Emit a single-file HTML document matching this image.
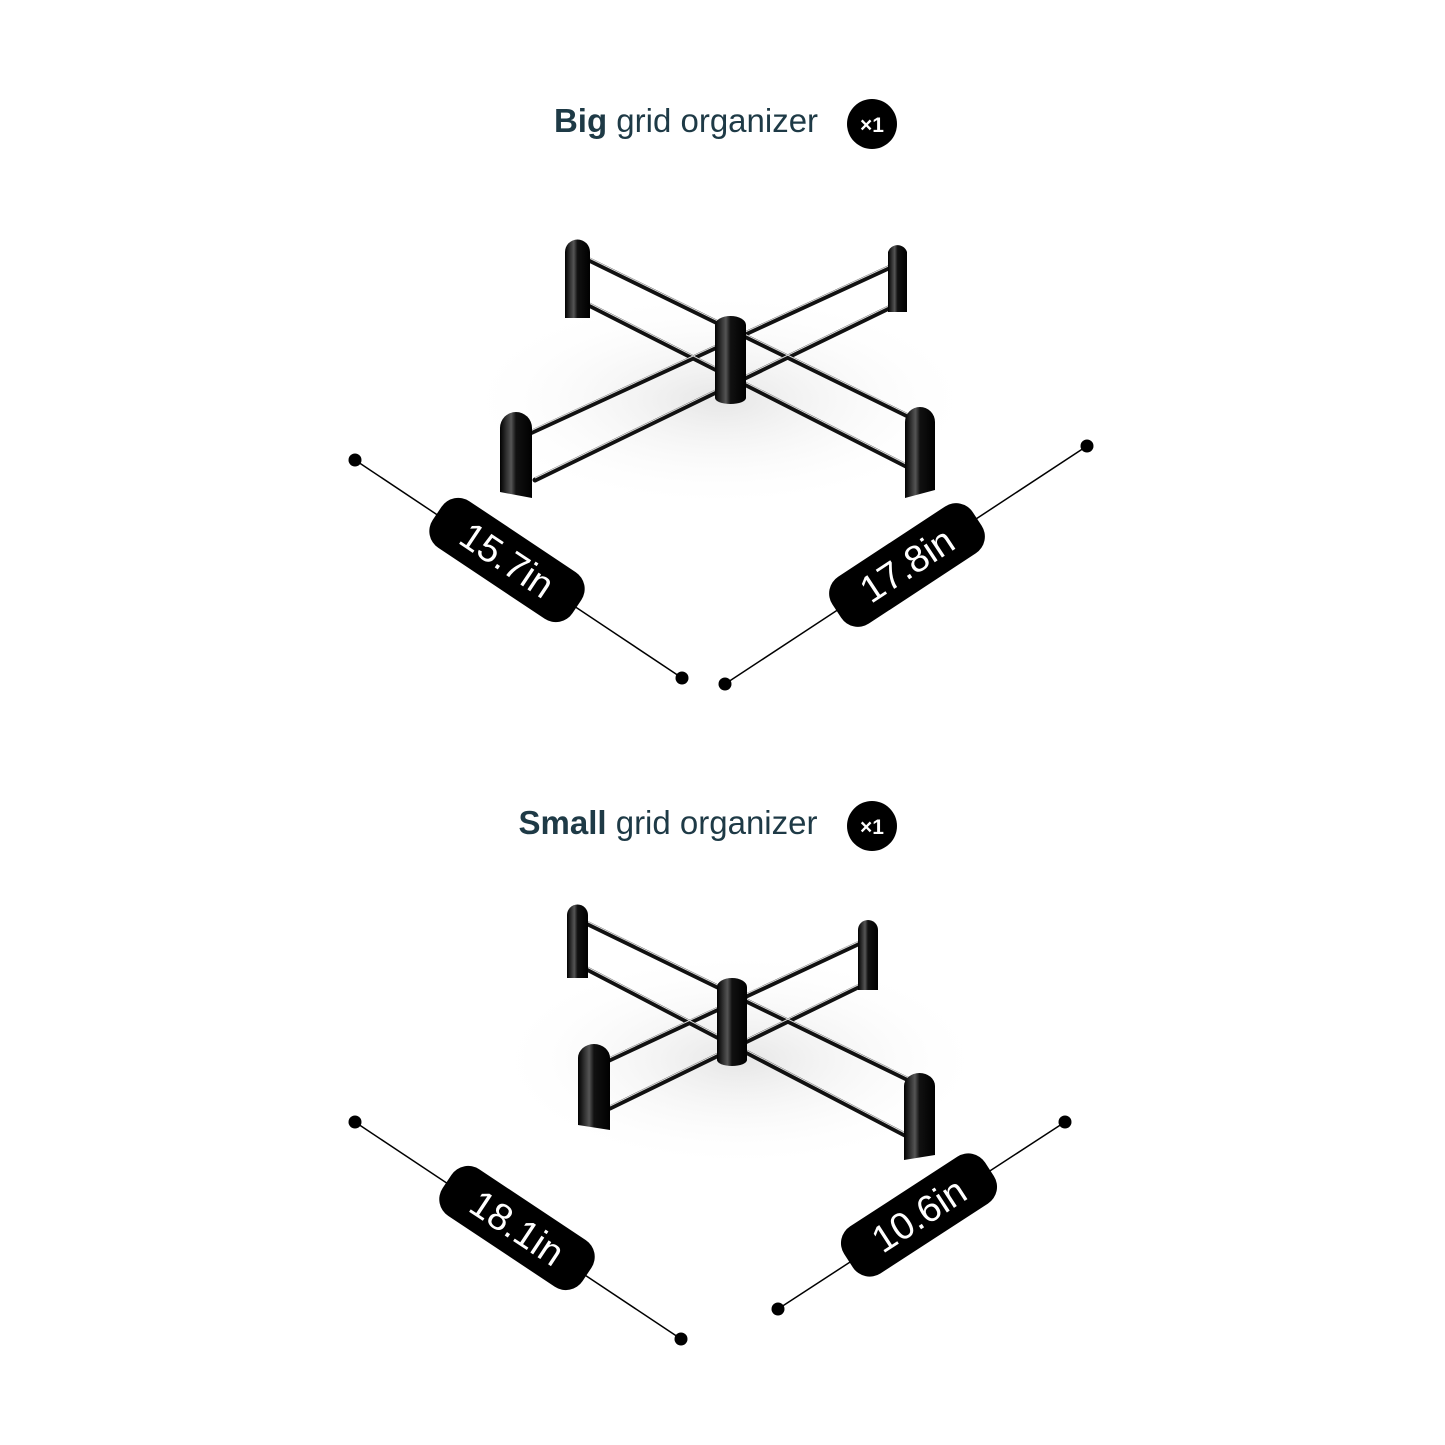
<!DOCTYPE html>
<html><head><meta charset="utf-8"><style>
html,body{margin:0;padding:0;background:#fff;}
svg{display:block}
</style></head><body>
<svg width="1445" height="1445" viewBox="0 0 1445 1445" xmlns="http://www.w3.org/2000/svg">
<defs>
<linearGradient id="post" x1="0" x2="1"><stop offset="0" stop-color="#000"/><stop offset="0.35" stop-color="#555"/><stop offset="0.5" stop-color="#111"/><stop offset="1" stop-color="#000"/></linearGradient>
<radialGradient id="sh" cx="0.5" cy="0.5" r="0.5"><stop offset="0" stop-color="#e6e6e6"/><stop offset="1" stop-color="#fff" stop-opacity="0"/></radialGradient>
</defs>
<rect width="1445" height="1445" fill="#fff"/>

<text x="686" y="132" text-anchor="middle" font-family="Liberation Sans, sans-serif" font-size="33" fill="#1e3a46"><tspan font-weight="bold">Big</tspan> grid organizer</text>
<circle cx="872" cy="124" r="25" fill="#000"/>
<text x="872" y="132" text-anchor="middle" font-family="Liberation Sans, sans-serif" font-size="21" font-weight="bold" fill="#fff">×1</text>

<text x="668" y="834" text-anchor="middle" font-family="Liberation Sans, sans-serif" font-size="33" fill="#1e3a46"><tspan font-weight="bold">Small</tspan> grid organizer</text>
<circle cx="872" cy="826" r="25" fill="#000"/>
<text x="872" y="834" text-anchor="middle" font-family="Liberation Sans, sans-serif" font-size="21" font-weight="bold" fill="#fff">×1</text>

<ellipse cx="720" cy="400" rx="260" ry="110" fill="url(#sh)"/>
<g stroke="#111" stroke-width="5" stroke-linecap="round">
<line x1="583" y1="257" x2="912" y2="418"/>
<line x1="585" y1="303" x2="910" y2="468"/>
<line x1="895" y1="265" x2="528" y2="434"/>
<line x1="895" y1="305" x2="535" y2="480"/>
</g>
<g stroke="#ddd" stroke-width="1">
<line x1="583" y1="255" x2="912" y2="416"/>
<line x1="585" y1="301" x2="910" y2="466"/>
<line x1="895" y1="263" x2="528" y2="432"/>
<line x1="895" y1="303" x2="535" y2="478"/>
</g>
<path d="M565 318 V252 a12 12 0 0 1 25 0 V318 Z" fill="url(#post)"/>
<path d="M888 312 V252 a10 10 0 0 1 19 0 V312 Z" fill="url(#post)"/>
<path d="M500 492 V428 a16 16 0 0 1 32 0 V498 Z" fill="url(#post)"/>
<path d="M905 498 V422 a15 15 0 0 1 30 0 V490 Z" fill="url(#post)"/>
<path d="M715 398 V325 a15.5 9 0 0 1 31 0 V398 a15.5 6 0 0 1 -31 0 Z" fill="url(#post)"/>

<g stroke="#000" stroke-width="1.5">
<line x1="355" y1="460" x2="682" y2="678"/>
<line x1="1087" y1="446" x2="725" y2="684"/>
</g>
<g fill="#000">
<circle cx="355" cy="460" r="6.5"/><circle cx="682" cy="678" r="6.5"/>
<circle cx="1087" cy="446" r="6.5"/><circle cx="725" cy="684" r="6.5"/>
</g>
<g transform="translate(507,560) rotate(33.7)">
<rect x="-84" y="-28" width="168" height="56" rx="20" fill="#000"/>
<text x="0" y="13" text-anchor="middle" font-family="Liberation Sans, sans-serif" font-size="38" fill="#fff">15.7in</text>
</g>
<g transform="translate(907,565) rotate(-33.3)">
<rect x="-84" y="-28" width="168" height="56" rx="20" fill="#000"/>
<text x="0" y="13" text-anchor="middle" font-family="Liberation Sans, sans-serif" font-size="38" fill="#fff">17.8in</text>
</g>

<ellipse cx="740" cy="1060" rx="250" ry="110" fill="url(#sh)"/>
<g stroke="#111" stroke-width="5" stroke-linecap="round">
<line x1="580" y1="920" x2="915" y2="1083"/>
<line x1="585" y1="968" x2="905" y2="1135"/>
<line x1="862" y1="942" x2="605" y2="1062"/>
<line x1="862" y1="985" x2="610" y2="1108"/>
</g>
<g stroke="#ddd" stroke-width="1">
<line x1="580" y1="918" x2="915" y2="1081"/>
<line x1="585" y1="966" x2="905" y2="1133"/>
<line x1="862" y1="940" x2="605" y2="1060"/>
<line x1="862" y1="983" x2="610" y2="1106"/>
</g>
<path d="M567 978 V915 a10.5 10.5 0 0 1 21 0 V978 Z" fill="url(#post)"/>
<path d="M858 990 V930 a10 10 0 0 1 20 0 V990 Z" fill="url(#post)"/>
<path d="M578 1125 V1058 a16 14 0 0 1 32 0 V1130 Z" fill="url(#post)"/>
<path d="M904 1160 V1086 a15.5 13 0 0 1 31 0 V1155 Z" fill="url(#post)"/>
<path d="M717 1060 V987 a15 9 0 0 1 30 0 V1060 a15 6 0 0 1 -30 0 Z" fill="url(#post)"/>

<g stroke="#000" stroke-width="1.5">
<line x1="355" y1="1122" x2="681" y2="1339"/>
<line x1="1065" y1="1122" x2="778" y2="1309"/>
</g>
<g fill="#000">
<circle cx="355" cy="1122" r="6.5"/><circle cx="681" cy="1339" r="6.5"/>
<circle cx="1065" cy="1122" r="6.5"/><circle cx="778" cy="1309" r="6.5"/>
</g>
<g transform="translate(517,1228) rotate(33.6)">
<rect x="-84" y="-28" width="168" height="56" rx="20" fill="#000"/>
<text x="0" y="13" text-anchor="middle" font-family="Liberation Sans, sans-serif" font-size="38" fill="#fff">18.1in</text>
</g>
<g transform="translate(919,1215) rotate(-33)">
<rect x="-84" y="-28" width="168" height="56" rx="20" fill="#000"/>
<text x="0" y="13" text-anchor="middle" font-family="Liberation Sans, sans-serif" font-size="38" fill="#fff">10.6in</text>
</g>
</svg>
</body></html>
